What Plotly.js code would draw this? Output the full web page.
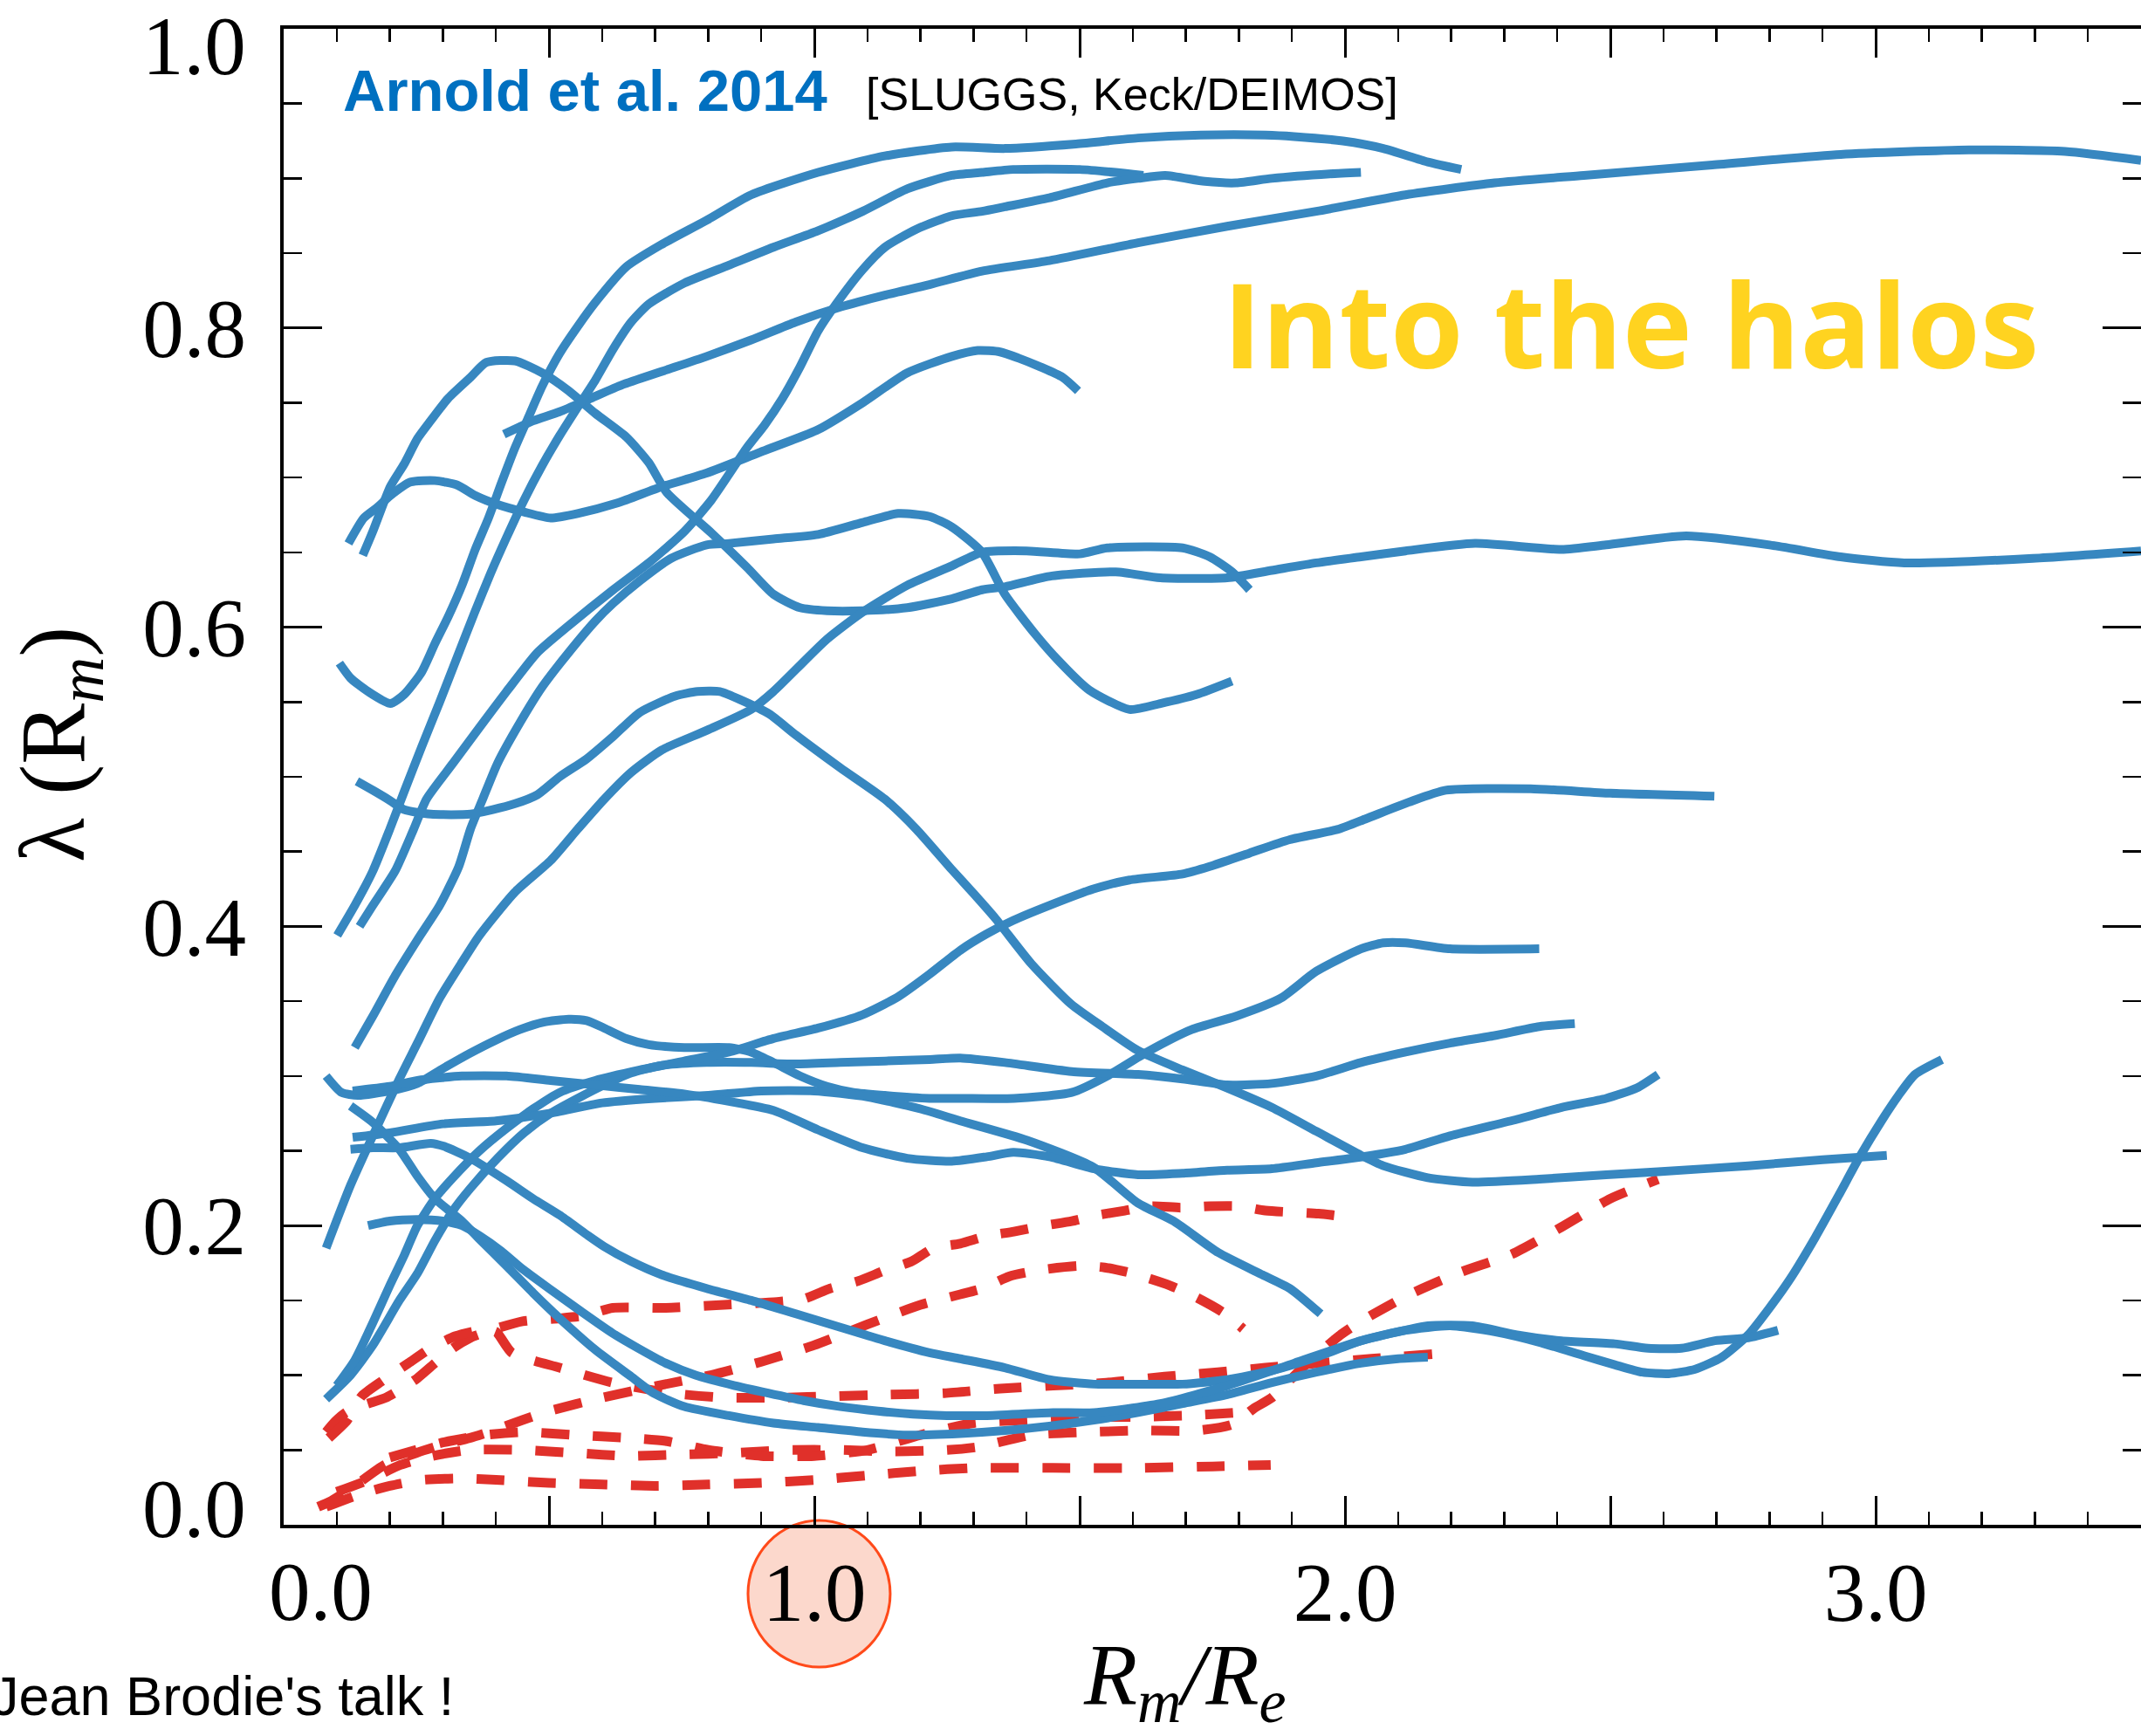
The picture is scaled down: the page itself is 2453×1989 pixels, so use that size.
<!DOCTYPE html>
<html><head><meta charset="utf-8">
<script src="https://cdn.plot.ly/plotly-3.0.1.min.js"></script>
<style>html,body{margin:0;padding:0;background:#fff;overflow:hidden}</style>
</head><body>
<div id="chart" style="width:2453px;height:1989px"></div>
<script>
// ---- tick labels (the edge labels 0.0 / 1.0 are nudged inward, as in the original) ----
const xTickVals = [0, 0.5, 1, 1.5, 2, 2.5, 3, 3.5];
const xTickText = ['', '', '1.0', '', '2.0', '', '3.0', ''];
const yTickVals = [0, 0.2, 0.4, 0.6, 0.8, 1.0];
const yTickText = ['', '0.2', '0.4', '0.6', '0.8', ''];
const xEdgeLabel = '0.0';
const yEdgeLabels = ['0.0', '1.0'];

// ---- SLUGGS galaxies (blue, solid): [Rm/Re, lambda] ----
const b01 = [[0.149,0.648],[0.168,0.664],[0.201,0.694],[0.227,0.709],[0.252,0.726],[0.277,0.738],[0.31,0.753],[0.352,0.767],[0.382,0.777],[0.436,0.778],[0.487,0.77],[0.537,0.758],[0.587,0.743],[0.646,0.727],[0.688,0.71],[0.722,0.69],[0.806,0.663],[0.873,0.64],[0.923,0.622],[0.973,0.613],[1.024,0.611],[1.091,0.611],[1.175,0.613],[1.259,0.619],[1.316,0.625],[1.359,0.627],[1.443,0.634],[1.568,0.637],[1.652,0.633],[1.778,0.633],[1.862,0.638],[1.946,0.643],[2.03,0.647],[2.114,0.651],[2.245,0.656],[2.408,0.652],[2.492,0.655],[2.643,0.661],[2.8,0.655],[2.934,0.647],[3.054,0.643],[3.296,0.646],[3.5,0.651]];
const b02 = [[0.122,0.656],[0.151,0.673],[0.176,0.68],[0.201,0.688],[0.239,0.697],[0.285,0.698],[0.327,0.695],[0.361,0.688],[0.403,0.682],[0.453,0.677],[0.503,0.673],[0.554,0.676],[0.629,0.683],[0.713,0.694],[0.797,0.703],[0.898,0.717],[1.007,0.732],[1.091,0.75],[1.175,0.77],[1.259,0.781],[1.308,0.785],[1.35,0.784],[1.384,0.78],[1.426,0.774],[1.468,0.767],[1.497,0.758]];
const b03 = [[0.105,0.576],[0.126,0.566],[0.159,0.557],[0.201,0.549],[0.227,0.555],[0.26,0.57],[0.285,0.589],[0.31,0.607],[0.336,0.628],[0.361,0.652],[0.386,0.673],[0.411,0.697],[0.436,0.72],[0.462,0.741],[0.487,0.761],[0.52,0.783],[0.554,0.801],[0.587,0.817],[0.646,0.841],[0.713,0.856],[0.797,0.872],[0.881,0.889],[1.007,0.904],[1.133,0.915],[1.259,0.921],[1.359,0.92],[1.493,0.923],[1.61,0.927],[1.728,0.929],[1.85,0.929],[1.904,0.928],[1.996,0.925],[2.072,0.92],[2.156,0.911],[2.219,0.906]];
const b04 = [[0.415,0.729],[0.445,0.734],[0.47,0.738],[0.52,0.744],[0.579,0.753],[0.638,0.762],[0.713,0.771],[0.797,0.781],[0.881,0.792],[0.965,0.804],[1.049,0.814],[1.133,0.822],[1.217,0.829],[1.316,0.838],[1.443,0.845],[1.61,0.857],[1.778,0.868],[1.946,0.878],[2.114,0.889],[2.282,0.897],[2.45,0.902],[2.692,0.909],[2.934,0.916],[3.176,0.919],[3.357,0.918],[3.5,0.912]];
const b05 = [[0.101,0.394],[0.134,0.414],[0.168,0.437],[0.2,0.465],[0.227,0.49],[0.26,0.52],[0.294,0.55],[0.327,0.58],[0.36,0.61],[0.39,0.636],[0.42,0.66],[0.453,0.685],[0.487,0.708],[0.52,0.728],[0.554,0.747],[0.587,0.765],[0.621,0.786],[0.655,0.804],[0.688,0.816],[0.755,0.83],[0.839,0.842],[0.923,0.854],[1.007,0.865],[1.091,0.878],[1.175,0.893],[1.259,0.902],[1.316,0.904],[1.375,0.906],[1.5,0.906],[1.62,0.902]];
const b06 = [[0.143,0.4],[0.168,0.414],[0.21,0.437],[0.245,0.465],[0.269,0.485],[0.319,0.509],[0.369,0.533],[0.42,0.557],[0.478,0.583],[0.537,0.601],[0.621,0.625],[0.688,0.643],[0.755,0.664],[0.806,0.685],[0.873,0.72],[0.906,0.735],[0.94,0.753],[0.973,0.774],[1.007,0.798],[1.041,0.816],[1.091,0.839],[1.133,0.854],[1.192,0.866],[1.259,0.875],[1.316,0.878],[1.359,0.881],[1.443,0.887],[1.552,0.897],[1.61,0.9],[1.661,0.902],[1.736,0.898],[1.795,0.897],[1.862,0.9],[1.971,0.903],[2.03,0.904]];
const b07 = [[0.134,0.319],[0.168,0.34],[0.21,0.367],[0.252,0.391],[0.294,0.414],[0.33,0.44],[0.352,0.465],[0.375,0.485],[0.403,0.509],[0.445,0.536],[0.487,0.56],[0.537,0.583],[0.587,0.604],[0.621,0.616],[0.671,0.631],[0.73,0.646],[0.797,0.655],[0.839,0.656],[0.923,0.659],[1.007,0.662],[1.091,0.67],[1.158,0.676],[1.217,0.674],[1.259,0.667],[1.316,0.65],[1.359,0.622],[1.417,0.595],[1.459,0.578],[1.518,0.558],[1.594,0.545],[1.652,0.549],[1.72,0.555],[1.787,0.564]];
const b08 = [[0.08,0.185],[0.126,0.227],[0.168,0.26],[0.218,0.298],[0.252,0.322],[0.294,0.352],[0.336,0.376],[0.369,0.394],[0.436,0.423],[0.503,0.444],[0.554,0.465],[0.604,0.485],[0.655,0.503],[0.713,0.518],[0.797,0.531],[0.881,0.545],[0.923,0.557],[1.024,0.592],[1.091,0.61],[1.175,0.628],[1.259,0.641],[1.316,0.65],[1.4,0.651],[1.5,0.649],[1.552,0.653],[1.694,0.653],[1.745,0.647],[1.787,0.637],[1.82,0.625]];
const b09 = [[0.138,0.497],[0.168,0.491],[0.201,0.484],[0.227,0.478],[0.277,0.475],[0.352,0.475],[0.394,0.478],[0.436,0.482],[0.478,0.488],[0.52,0.5],[0.571,0.512],[0.621,0.527],[0.671,0.543],[0.738,0.554],[0.78,0.557],[0.822,0.557],[0.864,0.551],[0.915,0.542],[0.965,0.528],[1.049,0.506],[1.133,0.485],[1.192,0.465],[1.259,0.438],[1.3,0.422],[1.342,0.405],[1.409,0.375],[1.484,0.348],[1.543,0.333],[1.61,0.317],[1.694,0.304],[1.778,0.292],[1.862,0.279],[1.946,0.263],[2.03,0.247],[2.072,0.24],[2.156,0.232],[2.24,0.229],[2.366,0.231],[2.492,0.234],[2.59,0.236],[2.76,0.24],[2.9,0.244],[3.021,0.247]];
const b10 = [[0.08,0.3],[0.109,0.289],[0.14,0.287],[0.2,0.29],[0.252,0.295],[0.3,0.305],[0.35,0.315],[0.4,0.324],[0.445,0.331],[0.49,0.336],[0.537,0.338],[0.571,0.337],[0.604,0.332],[0.646,0.325],[0.688,0.321],[0.755,0.319],[0.839,0.319],[0.881,0.316],[0.923,0.309],[0.973,0.3],[1.024,0.293],[1.074,0.289],[1.133,0.287],[1.217,0.285],[1.275,0.285],[1.376,0.285],[1.485,0.289],[1.552,0.3],[1.627,0.316],[1.711,0.331],[1.795,0.34],[1.879,0.352],[1.946,0.37],[2.03,0.385],[2.072,0.389],[2.114,0.389],[2.198,0.385],[2.366,0.385]];
const b11 = [[0.08,0.084],[0.126,0.1],[0.168,0.12],[0.218,0.15],[0.252,0.168],[0.285,0.19],[0.319,0.21],[0.352,0.225],[0.403,0.245],[0.453,0.262],[0.503,0.275],[0.554,0.285],[0.604,0.294],[0.655,0.302],[0.713,0.307],[0.797,0.309],[0.881,0.309],[0.965,0.308],[1.049,0.309],[1.133,0.31],[1.217,0.311],[1.275,0.312],[1.359,0.309],[1.485,0.303],[1.61,0.301],[1.694,0.298],[1.778,0.294],[1.862,0.295],[1.946,0.3],[2.03,0.309],[2.114,0.316],[2.198,0.322],[2.282,0.327],[2.366,0.333],[2.433,0.335]];
const b12 = [[0.1,0.093],[0.134,0.11],[0.168,0.135],[0.2,0.16],[0.227,0.18],[0.252,0.2],[0.285,0.218],[0.319,0.232],[0.369,0.25],[0.42,0.265],[0.47,0.278],[0.52,0.289],[0.587,0.297],[0.671,0.304],[0.755,0.31],[0.839,0.316],[0.923,0.325],[1.007,0.332],[1.091,0.341],[1.158,0.353],[1.217,0.368],[1.275,0.384],[1.325,0.395],[1.375,0.404],[1.443,0.414],[1.526,0.425],[1.594,0.431],[1.694,0.435],[1.745,0.44],[1.82,0.449],[1.896,0.458],[1.988,0.465],[2.04,0.472],[2.12,0.483],[2.19,0.491],[2.35,0.492],[2.5,0.489],[2.696,0.487]];
const b13 = [[0.126,0.28],[0.168,0.269],[0.218,0.251],[0.252,0.233],[0.285,0.218],[0.336,0.203],[0.369,0.191],[0.42,0.173],[0.47,0.155],[0.52,0.138],[0.587,0.117],[0.655,0.099],[0.697,0.088],[0.755,0.079],[0.839,0.073],[0.923,0.068],[1.007,0.065],[1.091,0.062],[1.175,0.06],[1.275,0.061],[1.359,0.063],[1.443,0.066],[1.527,0.07],[1.61,0.075],[1.694,0.081],[1.778,0.087],[1.862,0.095],[1.946,0.102],[2.03,0.108],[2.1,0.111],[2.156,0.112]];
const b14 = [[0.126,0.251],[0.168,0.252],[0.218,0.252],[0.277,0.255],[0.302,0.253],[0.352,0.245],[0.42,0.23],[0.47,0.218],[0.52,0.207],[0.571,0.194],[0.604,0.186],[0.655,0.176],[0.713,0.167],[0.797,0.158],[0.881,0.15],[0.965,0.141],[1.049,0.132],[1.133,0.123],[1.217,0.115],[1.275,0.111],[1.359,0.105],[1.443,0.097],[1.527,0.094],[1.61,0.094],[1.694,0.094],[1.778,0.097],[1.862,0.103],[1.946,0.112],[2.03,0.123],[2.114,0.13],[2.198,0.133],[2.282,0.129],[2.366,0.122],[2.45,0.113],[2.508,0.107],[2.56,0.102],[2.61,0.101],[2.66,0.104],[2.71,0.112],[2.76,0.127],[2.8,0.145],[2.84,0.165],[2.886,0.192],[2.93,0.22],[2.97,0.246],[3.011,0.27],[3.043,0.287],[3.074,0.301],[3.125,0.311]];
const b15 = [[0.159,0.2],[0.2,0.203],[0.252,0.204],[0.3,0.203],[0.336,0.2],[0.37,0.193],[0.41,0.183],[0.45,0.171],[0.5,0.158],[0.559,0.143],[0.62,0.128],[0.668,0.118],[0.72,0.108],[0.776,0.1],[0.85,0.093],[0.913,0.088],[0.98,0.083],[1.049,0.079],[1.12,0.076],[1.186,0.074],[1.25,0.073],[1.322,0.073],[1.45,0.075],[1.527,0.075],[1.652,0.081],[1.778,0.093],[1.904,0.108],[2.03,0.123],[2.114,0.13],[2.156,0.133],[2.24,0.133],[2.324,0.127],[2.408,0.123],[2.508,0.121],[2.571,0.118],[2.634,0.118],[2.697,0.123],[2.76,0.125],[2.816,0.13]];
const b16 = [[0.13,0.259],[0.2,0.262],[0.3,0.268],[0.4,0.27],[0.5,0.275],[0.6,0.282],[0.7,0.285],[0.8,0.287],[0.9,0.29],[1.0,0.29],[1.1,0.286],[1.2,0.278],[1.275,0.27],[1.401,0.257],[1.526,0.239],[1.61,0.215],[1.677,0.203],[1.761,0.182],[1.845,0.167],[1.896,0.158],[1.954,0.141]];
const b17 = [[0.13,0.29],[0.2,0.293],[0.252,0.297],[0.336,0.3],[0.42,0.3],[0.503,0.297],[0.587,0.294],[0.671,0.291],[0.755,0.288],[0.839,0.283],[0.923,0.277],[1.007,0.264],[1.091,0.252],[1.175,0.245],[1.259,0.243],[1.325,0.246],[1.375,0.249],[1.443,0.246],[1.527,0.238],[1.61,0.234],[1.694,0.235],[1.778,0.237],[1.862,0.238],[1.946,0.242],[2.013,0.245],[2.114,0.251],[2.198,0.26],[2.324,0.271],[2.408,0.279],[2.492,0.285],[2.55,0.292],[2.59,0.301]];

// ---- comparison profiles (red, dashed) ----
const r01 = [[0.08,0.062],[0.097,0.069],[0.117,0.075],[0.151,0.08],[0.193,0.085],[0.218,0.09],[0.252,0.098],[0.285,0.108],[0.319,0.118],[0.352,0.125],[0.39,0.13],[0.45,0.136],[0.52,0.138],[0.57,0.14],[0.62,0.145],[0.72,0.145],[0.83,0.147],[0.93,0.149],[0.98,0.151],[1.03,0.158],[1.083,0.163],[1.133,0.17],[1.183,0.176],[1.225,0.185],[1.275,0.188],[1.325,0.193],[1.376,0.196],[1.434,0.2],[1.485,0.203],[1.534,0.207],[1.585,0.21],[1.635,0.213],[1.69,0.212],[1.745,0.213],[1.8,0.213],[1.85,0.21],[1.95,0.208],[2.0,0.206]];
const r02 = [[0.065,0.012],[0.09,0.016],[0.13,0.025],[0.19,0.04],[0.25,0.048],[0.295,0.053],[0.35,0.058],[0.395,0.063],[0.45,0.07],[0.5,0.076],[0.6,0.085],[0.705,0.093],[0.805,0.1],[0.9,0.109],[0.999,0.12],[1.1,0.134],[1.2,0.147],[1.275,0.154],[1.317,0.158],[1.367,0.166],[1.42,0.17],[1.497,0.173],[1.547,0.172],[1.6,0.168],[1.67,0.16],[1.72,0.152],[1.77,0.142],[1.808,0.131]];
const r03 = [[0.1,0.022],[0.16,0.03],[0.22,0.04],[0.28,0.046],[0.35,0.05],[0.45,0.05],[0.55,0.048],[0.65,0.046],[0.75,0.047],[0.85,0.048],[0.95,0.05],[1.05,0.05],[1.15,0.049],[1.25,0.05],[1.308,0.052],[1.409,0.06],[1.514,0.062],[1.619,0.063],[1.72,0.063],[1.787,0.067],[1.829,0.078],[1.862,0.085],[1.92,0.105],[1.988,0.126],[2.03,0.136],[2.122,0.154],[2.219,0.169],[2.315,0.181],[2.408,0.199],[2.5,0.218],[2.59,0.231]];
const r04 = [[0.08,0.012],[0.14,0.02],[0.2,0.026],[0.26,0.03],[0.33,0.031],[0.4,0.03],[0.5,0.028],[0.6,0.027],[0.7,0.026],[0.8,0.027],[0.9,0.028],[1.0,0.03],[1.1,0.033],[1.2,0.036],[1.3,0.038],[1.45,0.038],[1.6,0.038],[1.75,0.039],[1.86,0.04]];
const r05 = [[0.085,0.058],[0.12,0.07],[0.147,0.086],[0.185,0.096],[0.235,0.108],[0.277,0.118],[0.323,0.126],[0.37,0.13],[0.4,0.129],[0.43,0.115],[0.52,0.105],[0.62,0.095],[0.73,0.088],[0.83,0.085],[0.935,0.085],[1.04,0.086],[1.14,0.087],[1.245,0.088],[1.35,0.091],[1.45,0.093],[1.55,0.095],[1.66,0.099],[1.76,0.102],[1.85,0.105],[1.95,0.108],[2.05,0.111],[2.198,0.115]];
const r06 = [[0.2,0.045],[0.3,0.055],[0.38,0.06],[0.45,0.062],[0.55,0.06],[0.65,0.058],[0.72,0.056],[0.8,0.05],[0.9,0.046],[1.0,0.046],[1.1,0.05],[1.2,0.06],[1.3,0.068],[1.4,0.07],[1.5,0.072],[1.6,0.072],[1.7,0.073],[1.8,0.075]];

const blueSeries = [b01,b02,b03,b04,b05,b06,b07,b08,b09,b10,b11,b12,b13,b14,b15,b16,b17];
const redSeries = [r01,r02,r03,r04,r05,r06];

const BLUE = '#3787c0';
const RED = '#e0302a';

const traces = [];
redSeries.forEach(s => traces.push({
  type: 'scatter', mode: 'lines', x: s.map(p => p[0]), y: s.map(p => p[1]),
  line: {color: RED, width: 11, dash: '32px,27px', shape: 'spline', smoothing: 0.6},
  hoverinfo: 'skip', showlegend: false
}));
blueSeries.forEach(s => traces.push({
  type: 'scatter', mode: 'lines', x: s.map(p => p[0]), y: s.map(p => p[1]),
  line: {color: BLUE, width: 10, shape: 'spline', smoothing: 0.6},
  hoverinfo: 'skip', showlegend: false
}));

const serif = 'Liberation Serif, Times New Roman, serif';
const sans = 'Liberation Sans, Arial, sans-serif';
const tickFont = {family: serif, size: 95, color: '#000'};

const layout = {
  width: 2453, height: 1989,
  margin: {l: 325, r: 0, t: 33, b: 242, pad: 0},
  paper_bgcolor: '#fff', plot_bgcolor: '#fff',
  showlegend: false,
  xaxis: {
    range: [0, 3.5], showgrid: false, zeroline: false,
    showline: true, linecolor: '#000', linewidth: 4, mirror: 'allticks',
    ticks: 'inside', ticklen: 33, tickwidth: 3, tickcolor: '#000',
    tickmode: 'array', tickvals: xTickVals, ticktext: xTickText,
    tickfont: tickFont, ticklabelstandoff: -8,
    minor: {ticks: 'inside', tickmode: 'linear', tick0: 0, dtick: 0.1, ticklen: 15, tickwidth: 2.5, tickcolor: '#000', showgrid: false},
    title: {text: ''}
  },
  yaxis: {
    range: [0, 1.0], showgrid: false, zeroline: false,
    showline: true, linecolor: '#000', linewidth: 4, mirror: 'allticks',
    ticks: 'inside', ticklen: 44, tickwidth: 3, tickcolor: '#000',
    tickmode: 'array', tickvals: yTickVals, ticktext: yTickText,
    tickfont: tickFont, ticklabelstandoff: 20,
    minor: {ticks: 'inside', tickmode: 'linear', tick0: 0, dtick: 0.05, ticklen: 21, tickwidth: 2.5, tickcolor: '#000', showgrid: false},
    title: {text: ''}
  },
  shapes: [{
    type: 'circle', xref: 'x', yref: 'paper', layer: 'below',
    x0: 0.875, x1: 1.143, y0: -0.0951, y1: 0.0029,
    fillcolor: 'rgba(252,212,198,0.9)', line: {color: '#ff4a1a', width: 3}
  }],
  annotations: [
    // edge tick labels
    {xref: 'x', yref: 'paper', x: 0.07, y: -0.0449, xanchor: 'center', yanchor: 'middle', showarrow: false,
     text: xEdgeLabel, font: tickFont},
    {xref: 'paper', yref: 'y', x: -0.0195, y: 0.0105, xanchor: 'right', yanchor: 'middle', showarrow: false,
     text: yEdgeLabels[0], font: tickFont},
    {xref: 'paper', yref: 'y', x: -0.0195, y: 0.9885, xanchor: 'right', yanchor: 'middle', showarrow: false,
     text: yEdgeLabels[1], font: tickFont},
    // axis titles
    {xref: 'paper', yref: 'paper', x: 0.4854, y: -0.1040, xanchor: 'center', yanchor: 'middle', showarrow: false,
     text: '<i>R<sub>m</sub>/R<sub>e</sub></i>', font: {family: serif, size: 100, color: '#000'}},
    {xref: 'paper', yref: 'paper', x: -0.1208, y: 0.5216, xanchor: 'center', yanchor: 'middle', showarrow: false, textangle: -90,
     text: 'λ (R<sub><i>m</i></sub>)', font: {family: serif, size: 105, color: '#000'}},
    // labels
    {xref: 'paper', yref: 'paper', x: 0.031, y: 0.9586, xanchor: 'left', yanchor: 'middle', showarrow: false,
     text: '<b>Arnold et al. 2014</b>', font: {family: sans, size: 67, color: '#0070c0'}},
    {xref: 'paper', yref: 'paper', x: 0.3125, y: 0.956, xanchor: 'left', yanchor: 'middle', showarrow: false,
     text: '[SLUGGS, Keck/DEIMOS]', font: {family: sans, size: 52, color: '#000'}},
    {xref: 'paper', yref: 'paper', x: 0.5047, y: 0.8034, xanchor: 'left', yanchor: 'middle', showarrow: false,
     text: '<b>Into the halos</b>', font: {family: 'Open Sans, sans-serif', size: 135, color: '#ffd320'}},
    {xref: 'paper', yref: 'paper', x: -0.1584, y: -0.1144, xanchor: 'left', yanchor: 'middle', showarrow: false,
     text: "Jean Brodie's talk !", font: {family: sans, size: 63, color: '#000'}}
  ]
};

Plotly.newPlot('chart', traces, layout, {displayModeBar: false, staticPlot: true});
</script>
</body></html>
